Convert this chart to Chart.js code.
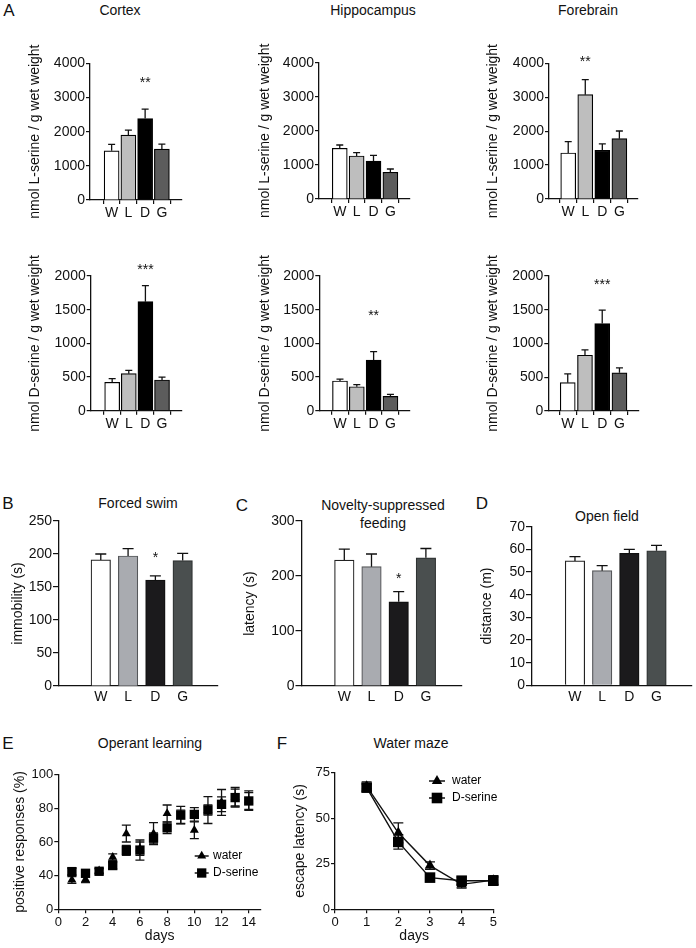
<!DOCTYPE html>
<html>
<head>
<meta charset="utf-8">
<script src="https://cdn.jsdelivr.net/npm/chart.js@4.4.1/dist/chart.umd.min.js"></script>
<style>
html,body{margin:0;padding:0;background:#fff;}
#page{position:relative;width:696px;height:948px;overflow:hidden;font-family:"Liberation Sans",Arial,Helvetica,sans-serif;color:#111;}
canvas{position:absolute;}
.t{position:absolute;transform:translate(-50%,-50%);white-space:nowrap;font-size:14px;line-height:1;}
.lt{position:absolute;transform:translate(-50%,-50%);font-size:17px;line-height:1;}
</style>
</head>
<body>
<div id="page">
  <div class="lt" style="left:9px;top:10px">A</div>
  <div class="t" style="left:120px;top:10px">Cortex</div>
  <div class="t" style="left:373px;top:10px">Hippocampus</div>
  <div class="t" style="left:588px;top:10px">Forebrain</div>
  <div class="lt" style="left:8px;top:503px">B</div>
  <div class="t" style="left:138px;top:503px">Forced swim</div>
  <div class="lt" style="left:242px;top:505px">C</div>
  <div class="t" style="left:383px;top:505px">Novelty-suppressed</div>
  <div class="t" style="left:383px;top:523px">feeding</div>
  <div class="lt" style="left:482px;top:503px">D</div>
  <div class="t" style="left:607px;top:516px">Open field</div>
  <div class="lt" style="left:8px;top:743px">E</div>
  <div class="t" style="left:150px;top:743px">Operant learning</div>
  <div class="lt" style="left:282px;top:743px">F</div>
  <div class="t" style="left:411px;top:743px">Water maze</div>
</div>
<script>
// ---------------- DATA ----------------
const groups = ['W', 'L', 'D', 'G'];

// Panel A: L-serine (nmol / g wet weight)
const cortexLSer = [1440, 1898, 2385, 1489];
const cortexLSerSem = [186, 146, 272, 146];
const cortexLSerSig = ['', '', '**', ''];
const cortexLSerSigAt = 3553;
const hippoLSer = [1488, 1262, 1115, 783];
const hippoLSerSem = [97, 97, 167, 97];
const hippoLSerSig = ['', '', '', ''];
const hippoLSerSigAt = 0;
const foreLSer = [1356, 3075, 1436, 1778];
const foreLSerSem = [334, 442, 186, 227];
const foreLSerSig = ['', '**', '', ''];
const foreLSerSigAt = 4148;

// Panel A: D-serine (nmol / g wet weight)
const cortexDSer = [422, 550, 1619, 456];
const cortexDSerSem = [53, 50, 238, 44];
const cortexDSerSig = ['', '', '***', ''];
const cortexDSerSigAt = 2153;
const hippoDSer = [441, 356, 753, 213];
const hippoDSerSem = [28, 30, 123, 30];
const hippoDSerSig = ['', '', '**', ''];
const hippoDSerSigAt = 1461;
const foreDSer = [420, 826, 1296, 566];
const foreDSerSem = [129, 80, 198, 74];
const foreDSerSig = ['', '', '***', ''];
const foreDSerSigAt = 1926;

// Panel B: forced swim immobility (s)
const forcedSwim = [191, 197, 160.5, 190];
const forcedSwimSem = [9, 11, 6.5, 11];
const forcedSwimSig = ['', '', '*', ''];
const forcedSwimSigAt = 200;
// Panel C: novelty-suppressed feeding latency (s)
const nsfLatency = [229, 217, 153, 233];
const nsfLatencySem = [20, 23, 18.5, 17];
const nsfSig = ['', '', '*', ''];
const nsfSigAt = 202;
// Panel D: open field distance (m)
const openField = [54.9, 50.6, 58.2, 59.4];
const openFieldSem = [1.9, 2.2, 1.8, 2.4];
const openFieldSig = ['', '', '', ''];
const openFieldSigAt = 0;

// Panel E: operant learning, positive responses (%)
const operantDays = [1, 2, 3, 4, 5, 6, 7, 8, 9, 10, 11, 12, 13, 14];
const operantWater = [37.4, 37.8, 43, 51, 65, 56, 65, 77, 75, 67, 79, 83.5, 86.6, 84.6];
const operantWaterSem = [2, 2, 1.5, 2, 5, 4, 6.5, 5, 4, 5, 8, 7.7, 5.8, 5.8];
const operantDSer = [42.4, 41.4, 42.6, 46, 55, 55.2, 62.4, 68.4, 76, 76.4, 79, 82.4, 86.4, 84.4];
const operantDSerSem = [2, 2, 1.5, 2, 3, 6, 3, 3.4, 5.2, 4, 3, 4.4, 5, 5];

// Panel F: water maze escape latency (s)
const mazeDays = [1, 2, 3, 4, 5];
const mazeWater = [67.5, 42, 24, 13.7, 16];
const mazeWaterSem = [2.5, 5.5, 2, 2, 2.5];
const mazeDSer = [66.8, 37, 17.4, 15.7, 15.7];
const mazeDSerSem = [2, 4, 2, 2, 2];

// Tick values / labels
const lSerTicks = [0, 1000, 2000, 3000, 4000];
const dSerTicks = [0, 500, 1000, 1500, 2000];
const swimTicks = [0, 50, 100, 150, 200, 250];
const nsfTicks = [0, 100, 200, 300];
const openTicks = [0, 10, 20, 30, 40, 50, 60, 70];
const operantYTicks = [20, 40, 60, 80, 100];
const operantYTickLabels = ['0', '40', '60', '80', '100'];
const operantXTicks = [0, 2, 4, 6, 8, 10, 12, 14];
const mazeYTicks = [0, 25, 50, 75];
const mazeXTicks = [0, 1, 2, 3, 4, 5];

// ---------------- STYLE / HELPERS ----------------
const FONT = '"Liberation Sans", Arial, Helvetica, sans-serif';
Chart.defaults.font.family = FONT;
Chart.defaults.color = '#111';
const INK = '#111';
const page = document.getElementById('page');

const topColors = ['#ffffff', '#bebebe', '#000000', '#5c5c5c'];
const topBorders = ['#000', '#000', '#000', '#000'];
const midColors = ['#ffffff', '#a9abb0', '#1b1a1c', '#4a4f4f'];
const midBorders = ['#222', '#55575a', '#111', '#2e3232'];

function drawMarker(ctx, style, x, y, r) {
  ctx.beginPath();
  if (style === 'triangle') {
    ctx.moveTo(x, y - r);
    ctx.lineTo(x + 0.866 * r, y + 0.5 * r);
    ctx.lineTo(x - 0.866 * r, y + 0.5 * r);
    ctx.closePath();
  } else {
    const s = r * Math.SQRT1_2;
    ctx.rect(x - s, y - s, 2 * s, 2 * s);
  }
  ctx.fillStyle = '#000';
  ctx.fill();
}

function drawErr(chart, both) {
  const ctx = chart.ctx;
  const ys = chart.scales.y;
  chart.data.datasets.forEach((ds, di) => {
    if (!ds.errs || !!ds.errBoth !== both) return;
    const meta = chart.getDatasetMeta(di);
    ctx.save();
    ctx.strokeStyle = INK;
    ctx.lineWidth = ds.errWidth || 1.3;
    const cap = ds.capW || 8;
    meta.data.forEach((el, i) => {
      const v = ds.data[i].y, e = ds.errs[i];
      const x = el.x;
      const yTop = ys.getPixelForValue(v + e);
      const yBot = both ? ys.getPixelForValue(v - e) : el.y;
      ctx.beginPath();
      ctx.moveTo(x, yBot); ctx.lineTo(x, yTop);
      ctx.moveTo(x - cap / 2, yTop); ctx.lineTo(x + cap / 2, yTop);
      if (both) { ctx.moveTo(x - cap / 2, yBot); ctx.lineTo(x + cap / 2, yBot); }
      ctx.stroke();
    });
    ctx.restore();
  });
}

const errPlugin = {
  id: 'errbars',
  beforeDatasetsDraw(chart) { drawErr(chart, true); },
  afterDatasetsDraw(chart) {
    drawErr(chart, false);
    const ctx = chart.ctx;
    chart.data.datasets.forEach((ds, di) => {
      if (!ds.sig) return;
      const meta = chart.getDatasetMeta(di);
      ctx.save();
      ctx.fillStyle = INK;
      ctx.font = '14px ' + FONT;
      ctx.textAlign = 'center';
      ctx.textBaseline = 'alphabetic';
      ds.sig.forEach((s, i) => {
        if (!s) return;
        const y = chart.scales.y.getPixelForValue(ds.sigAt);
        ctx.fillText(s, meta.data[i].x, y + 8);
      });
      ctx.restore();
    });
  }
};

const keyPlugin = {
  id: 'key',
  afterDraw(chart, args, opts) {
    if (!opts || opts.x == null) return;
    const ctx = chart.ctx;
    chart.data.datasets.forEach((ds, i) => {
      const y = opts.y + i * opts.dy;
      ctx.save();
      ctx.strokeStyle = '#000';
      ctx.lineWidth = 1.4;
      ctx.beginPath(); ctx.moveTo(opts.x - opts.half, y); ctx.lineTo(opts.x + opts.half, y); ctx.stroke();
      drawMarker(ctx, ds.pointStyle, opts.x, y, ds.pointRadius);
      ctx.fillStyle = '#000';
      ctx.font = opts.size + 'px ' + FONT;
      ctx.textBaseline = 'middle';
      ctx.textAlign = 'left';
      ctx.fillText(ds.label, opts.tx, y);
      ctx.restore();
    });
  }
};

function makeCanvas(p) {
  const cv = document.createElement('canvas');
  cv.width = p.cw; cv.height = p.ch;
  cv.style.left = p.cx + 'px'; cv.style.top = p.cy + 'px';
  page.appendChild(cv);
  return cv;
}

function frame(p) {
  const lh = (p.titleSize || 14) * 1.2;
  const pl = p.tx - lh / 2 - p.cx;
  return {
    pl: pl,
    yw: p.L - p.cx - pl,
    pt: p.T - p.cy,
    pr: p.cx + p.cw - p.R,
    xh: p.cy + p.ch - p.B
  };
}

function barPanel(p, vals, sems, sig, sigAt, yTicks, colors, borders) {
  const cv = makeCanvas(p);
  const f = frame(p);
  new Chart(cv, {
    type: 'bar',
    data: {
      datasets: [{
        data: vals.map((v, i) => ({ x: i + 1, y: v })),
        backgroundColor: colors,
        borderColor: borders,
        borderWidth: 1.2,
        barThickness: p.barW,
        errs: sems,
        capW: p.capW,
        sig: sig,
        sigAt: sigAt
      }]
    },
    options: {
      responsive: false,
      animation: false,
      events: [],
      layout: { padding: { left: f.pl, top: f.pt, right: f.pr, bottom: 0 } },
      plugins: { legend: { display: false }, tooltip: { enabled: false } },
      scales: {
        x: {
          type: 'linear',
          min: p.xMin, max: p.xMax,
          afterBuildTicks: s => { s.ticks = groups.map((g, i) => ({ value: i + 1 })); },
          ticks: { callback: v => groups[v - 1], font: { size: 14 }, color: INK, padding: p.xPad, maxRotation: 0, autoSkip: false },
          grid: { display: true, drawOnChartArea: false, drawTicks: p.xTickMarks, tickLength: 4, color: INK, lineWidth: 1.2 },
          border: { display: true, color: INK, width: 1.3 },
          afterFit: s => { s.height = f.xh; }
        },
        y: {
          min: yTicks[0], max: yTicks[yTicks.length - 1],
          afterBuildTicks: s => { s.ticks = yTicks.map(v => ({ value: v })); },
          ticks: { font: { size: 14 }, color: INK, padding: 1, callback: v => String(v) },
          grid: { display: true, drawOnChartArea: false, drawTicks: true, tickLength: p.yTick, color: INK, lineWidth: 1.2 },
          border: { display: true, color: INK, width: 1.3 },
          title: { display: true, text: p.yTitle, font: { size: 14 }, color: INK, padding: 0 },
          afterFit: s => { s.width = f.yw; }
        }
      }
    },
    plugins: [errPlugin]
  });
}

function linePanel(p, xs, series, yTicks, yLabels, xTicks, showLine, legend) {
  const cv = makeCanvas(p);
  const f = frame(p);
  new Chart(cv, {
    type: 'scatter',
    data: {
      datasets: series.map(s => ({
        label: s.label,
        data: xs.map((x, i) => ({ x: x, y: s.vals[i] })),
        errs: s.sems,
        errBoth: true,
        capW: p.capW,
        pointStyle: s.style,
        pointRadius: s.r,
        pointBorderWidth: 0,
        pointBackgroundColor: '#000',
        backgroundColor: '#000',
        borderColor: '#111',
        borderWidth: 1.4,
        showLine: showLine,
        tension: 0,
        order: s.order,
        clip: false
      }))
    },
    options: {
      responsive: false,
      animation: false,
      events: [],
      layout: { padding: { left: f.pl, top: f.pt, right: f.pr, bottom: 0 } },
      plugins: { legend: { display: false }, tooltip: { enabled: false }, key: legend },
      scales: {
        x: {
          type: 'linear',
          min: xTicks[0], max: p.xMax,
          afterBuildTicks: s => { s.ticks = xTicks.map(v => ({ value: v })); },
          ticks: { font: { size: 13 }, color: INK, padding: 1, maxRotation: 0, autoSkip: false, callback: v => String(v) },
          grid: { display: true, drawOnChartArea: false, drawTicks: true, tickLength: 4, color: INK, lineWidth: 1.2 },
          border: { display: true, color: INK, width: 1.3 },
          title: { display: true, text: 'days', font: { size: 14 }, color: INK, padding: { top: 0, bottom: 0 } },
          afterFit: s => { s.height = f.xh; }
        },
        y: {
          min: yTicks[0], max: yTicks[yTicks.length - 1],
          afterBuildTicks: s => { s.ticks = yTicks.map(v => ({ value: v })); },
          ticks: { font: { size: 13 }, color: INK, padding: 1, callback: (v, i) => yLabels[i] },
          grid: { display: true, drawOnChartArea: false, drawTicks: true, tickLength: 4, color: INK, lineWidth: 1.2 },
          border: { display: true, color: INK, width: 1.3 },
          title: { display: true, text: p.yTitle, font: { size: 14 }, color: INK, padding: 0 },
          afterFit: s => { s.width = f.yw; }
        }
      }
    },
    plugins: [errPlugin, keyPlugin]
  });
}

// ---------------- PANELS ----------------
const topCommon = { barW: 15, capW: 7, xTickMarks: true, xPad: 1, yTick: 4 };
const lTitle = 'nmol L-serine / g wet weight';
const dTitle = 'nmol D-serine / g wet weight';

barPanel(Object.assign({ cx: 0, cy: 40, cw: 200, ch: 180, L: 90, T: 63.3, R: 182, B: 200, tx: 35, xMin: 0.395, xMax: 4.515, yTitle: lTitle }, topCommon),
  cortexLSer, cortexLSerSem, cortexLSerSig, cortexLSerSigAt, lSerTicks, topColors, topBorders);
barPanel(Object.assign({ cx: 225, cy: 40, cw: 200, ch: 180, L: 319, T: 62.7, R: 410, B: 199, tx: 265, xMin: 0.444, xMax: 4.489, yTitle: lTitle }, topCommon),
  hippoLSer, hippoLSerSem, hippoLSerSig, hippoLSerSigAt, lSerTicks, topColors, topBorders);
barPanel(Object.assign({ cx: 455, cy: 40, cw: 200, ch: 180, L: 549, T: 63.3, R: 638, B: 199, tx: 493, xMin: 0.525, xMax: 4.44, yTitle: lTitle }, topCommon),
  foreLSer, foreLSerSem, foreLSerSig, foreLSerSigAt, lSerTicks, topColors, topBorders);

barPanel(Object.assign({ cx: 0, cy: 250, cw: 200, ch: 185, L: 90.7, T: 276, R: 182, B: 410.7, tx: 35, xMin: 0.395, xMax: 4.515, yTitle: dTitle }, topCommon),
  cortexDSer, cortexDSerSem, cortexDSerSig, cortexDSerSigAt, dSerTicks, topColors, topBorders);
barPanel(Object.assign({ cx: 225, cy: 250, cw: 200, ch: 185, L: 319.3, T: 276, R: 410, B: 410.7, tx: 265, xMin: 0.444, xMax: 4.489, yTitle: dTitle }, topCommon),
  hippoDSer, hippoDSerSem, hippoDSerSig, hippoDSerSigAt, dSerTicks, topColors, topBorders);
barPanel(Object.assign({ cx: 455, cy: 250, cw: 200, ch: 185, L: 548.3, T: 276, R: 638.3, B: 411, tx: 493, xMin: 0.525, xMax: 4.44, yTitle: dTitle }, topCommon),
  foreDSer, foreDSerSem, foreDSerSig, foreDSerSigAt, dSerTicks, topColors, topBorders);

const midCommon = { barW: 19.5, capW: 11, xTickMarks: false, xPad: 3, yTick: 6 };
barPanel(Object.assign({ cx: 0, cy: 480, cw: 225, ch: 230, L: 59, T: 521, R: 217.5, B: 686, tx: 18, xMin: 0.195, xMax: 4.55, yTitle: 'immobility (s)' }, midCommon),
  forcedSwim, forcedSwimSem, forcedSwimSig, forcedSwimSigAt, swimTicks, midColors, midBorders);
barPanel(Object.assign({ cx: 228, cy: 480, cw: 240, ch: 230, L: 301.5, T: 521, R: 462, B: 686, tx: 250, xMin: 0.164, xMax: 4.59, yTitle: 'latency (s)' }, midCommon),
  nsfLatency, nsfLatencySem, nsfSig, nsfSigAt, nsfTicks, midColors, midBorders);
barPanel(Object.assign({ cx: 458, cy: 480, cw: 238, ch: 230, L: 532, T: 526.7, R: 692, B: 685.3, tx: 487, xMin: 0.155, xMax: 4.57, yTitle: 'distance (m)' }, midCommon),
  openField, openFieldSem, openFieldSig, openFieldSigAt, openTicks, midColors, midBorders);

linePanel({ cx: 0, cy: 755, cw: 280, ch: 190, L: 58.3, T: 774.7, R: 261, B: 909.3, tx: 20, xMax: 14.9, capW: 9, yTitle: 'positive responses (%)' },
  operantDays,
  [{ label: 'water', vals: operantWater, sems: operantWaterSem, style: 'triangle', r: 5.2, order: 2 },
   { label: 'D-serine', vals: operantDSer, sems: operantDSerSem, style: 'rect', r: 6.6, order: 1 }],
  operantYTicks, operantYTickLabels, operantXTicks, false,
  { x: 201.7, y: 856 - 755, dy: 17, half: 7, tx: 213, size: 12 });

linePanel({ cx: 282, cy: 755, cw: 225, ch: 190, L: 335, T: 772.7, R: 493.3, B: 909.3, tx: 300, xMax: 5, capW: 10, yTitle: 'escape latency (s)' },
  mazeDays,
  [{ label: 'water', vals: mazeWater, sems: mazeWaterSem, style: 'triangle', r: 6, order: 2 },
   { label: 'D-serine', vals: mazeDSer, sems: mazeDSerSem, style: 'rect', r: 7.5, order: 1 }],
  mazeYTicks, mazeYTicks.map(String), mazeXTicks, true,
  { x: 437 - 282, y: 781 - 755, dy: 17, half: 8, tx: 452 - 282, size: 12 });
</script>
</body>
</html>
